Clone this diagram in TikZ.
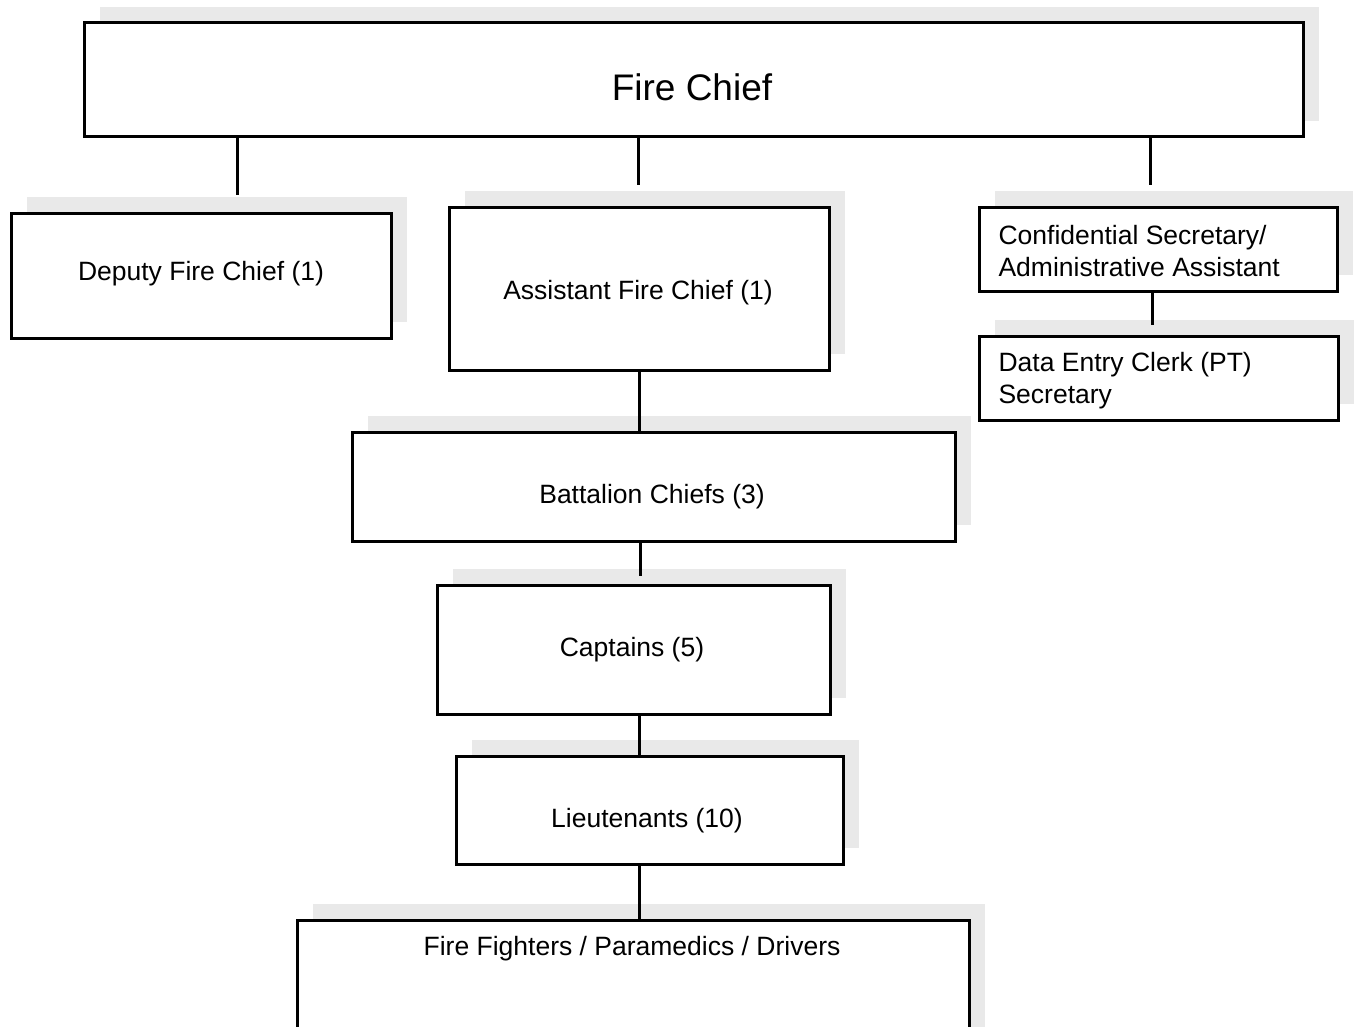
\documentclass[tikz,border=0pt]{standalone}
\usepackage{fontspec}
\setmainfont{Liberation Sans}
\usetikzlibrary{shadows,calc}
\tikzset{
  x=1pt,y=-1pt,
  orgbox/.style={draw=black, line width=3pt, fill=white, rectangle, inner sep=0pt,
    general shadow={shadow xshift=16pt, shadow yshift=16pt, fill=gray!17}},
  lbl/.style={font=\fontsize{26.5}{32}\selectfont, align=left},
  conn/.style={line width=3pt, draw=black}
}
\begin{document}
\begin{tikzpicture}
\useasboundingbox (0,0) rectangle (1359,1027);
% boxes
\node[orgbox, minimum width=1219pt, minimum height=114pt] (fc) at (693.5,80) {};
\node[orgbox, minimum width=380pt, minimum height=125pt] (dep) at (201,275.5) {};
\node[orgbox, minimum width=380pt, minimum height=163pt] (asst) at (639,288.5) {};
\node[orgbox, minimum width=358pt, minimum height=84pt] (conf) at (1158,249) {};
\node[orgbox, minimum width=359pt, minimum height=84pt] (data) at (1158.5,378) {};
\node[orgbox, minimum width=603pt, minimum height=109pt] (bat) at (653.5,486.5) {};
\node[orgbox, minimum width=393pt, minimum height=129pt] (cap) at (633.5,649.5) {};
\node[orgbox, minimum width=387pt, minimum height=108pt] (lt) at (649.5,810) {};
\node[orgbox, minimum width=672pt, minimum height=160pt] (ff) at (633,1000) {};
% texts
\node[font=\fontsize{37}{44}\selectfont] (fct) at (692,87) {Fire Chief};
\node[lbl] (dept) at (201,274) {Deputy Fire Chief (1)};
\node[lbl] (asstt) at (638,293) {Assistant Fire Chief (1)};
\node[lbl, anchor=west] (conft) at (995,251) {Confidential Secretary/\\Administrative Assistant};
\node[lbl, anchor=west] (datat) at (995,381) {Data Entry Clerk (PT)\\Secretary};
\node[lbl] (batt) at (652,497) {Battalion Chiefs (3)};
\node[lbl] (capt) at (632,650) {Captains (5)};
\node[lbl] (ltt) at (647,821) {Lieutenants (10)};
\node[lbl] (fft) at (632,949) {Fire Fighters / Paramedics / Drivers};
% connectors
\draw[conn] (fc.south -| 237,0) -- ([yshift=16pt]dep.north -| 237,0);
\draw[conn] (fc.south -| 638,0) -- ([yshift=20pt]asst.north -| 638,0);
\draw[conn] (fc.south -| 1150,0) -- ([yshift=20pt]conf.north -| 1150,0);
\draw[conn] (asst.south -| 639,0) -- (bat.north -| 639,0);
\draw[conn] (conf.south -| 1152,0) -- ([yshift=10pt]data.north -| 1152,0);
\draw[conn] (bat.south -| 640,0) -- ([yshift=8pt]cap.north -| 640,0);
\draw[conn] (cap.south -| 639,0) -- (lt.north -| 639,0);
\draw[conn] (lt.south -| 639,0) -- (ff.north -| 639,0);
\end{tikzpicture}
\end{document}
